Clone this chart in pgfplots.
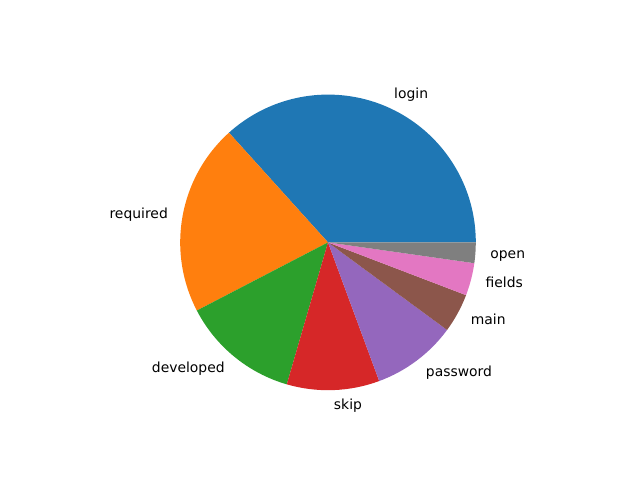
\documentclass[border=0pt]{standalone}
\usepackage{pgfplots}
\pgfplotsset{compat=1.18}
\usepackage{pgfplotstable}
\usepackage{fontspec}
\setmainfont{DejaVu Sans}
\definecolor{c0}{HTML}{1F77B4}
\definecolor{c1}{HTML}{FF7F0E}
\definecolor{c2}{HTML}{2CA02C}
\definecolor{c3}{HTML}{D62728}
\definecolor{c4}{HTML}{9467BD}
\definecolor{c5}{HTML}{8C564B}
\definecolor{c6}{HTML}{E377C2}
\definecolor{c7}{HTML}{7F7F7F}

\pgfplotstableread{
label value col
login 36.69 c0
required 20.94 c1
developed 12.88 c2
skip 10.13 c3
password 9.28 c4
main 4.28 c5
fields 3.56 c6
open 2.25 c7
}\piedata

% geometry in pixel units of a 640x480 canvas
\def\cx{328}
\def\cy{237.6}
\def\rad{147.8}

\pgfplotstablegetrowsof{\piedata}
\pgfmathtruncatemacro\lastrow{\pgfplotsretval-1}
\xdef\total{0}
\foreach \i in {0,...,\lastrow}{
  \pgfplotstablegetelem{\i}{value}\of\piedata
  \pgfmathsetmacro\tmp{\total+\pgfplotsretval}
  \xdef\total{\tmp}
}
\xdef\cum{0}
\gdef\slices{}
\foreach \i in {0,...,\lastrow}{
  \pgfplotstablegetelem{\i}{value}\of\piedata \let\v\pgfplotsretval
  \pgfplotstablegetelem{\i}{label}\of\piedata \let\lab\pgfplotsretval
  \pgfplotstablegetelem{\i}{col}\of\piedata \let\col\pgfplotsretval
  \pgfmathsetmacro\a{\cum/\total*360}
  \pgfmathsetmacro\b{(\cum+\v)/\total*360}
  \pgfmathsetmacro\m{(\a+\b)/2}
  \pgfmathsetmacro\lx{\cx+1.1*\rad*cos(\m)}
  \pgfmathsetmacro\ly{\cy+1.1*\rad*sin(\m)}
  \pgfmathtruncatemacro\side{cos(\m)>0}
  \ifnum\side=1 \def\anc{west}\else\def\anc{east}\fi
  \pgfmathsetmacro\newcum{\cum+\v}
  \xdef\cum{\newcum}
  \xdef\slices{\expandafter\unexpanded\expandafter{\slices}%
    \noexpand\fill[\col] (axis cs:\cx,\cy) -- ++(\a:\rad pt) arc[start angle=\a, end angle=\b, radius=\rad pt] -- cycle;%
    \noexpand\node[anchor=\anc, inner sep=0pt, text height=12.6pt, text depth=3.2pt, font=\noexpand\fontsize{13.9}{16}\noexpand\selectfont] at (axis cs:\lx,\ly) {\lab};}
}

\begin{document}
\begin{tikzpicture}
\begin{axis}[
  scale only axis, width=640pt, height=480pt,
  xmin=0, xmax=640, ymin=0, ymax=480,
  hide axis, clip=false,
]
\path[draw=none] (axis cs:0,0) rectangle (axis cs:640,480);
\slices
\end{axis}
\end{tikzpicture}
\end{document}
